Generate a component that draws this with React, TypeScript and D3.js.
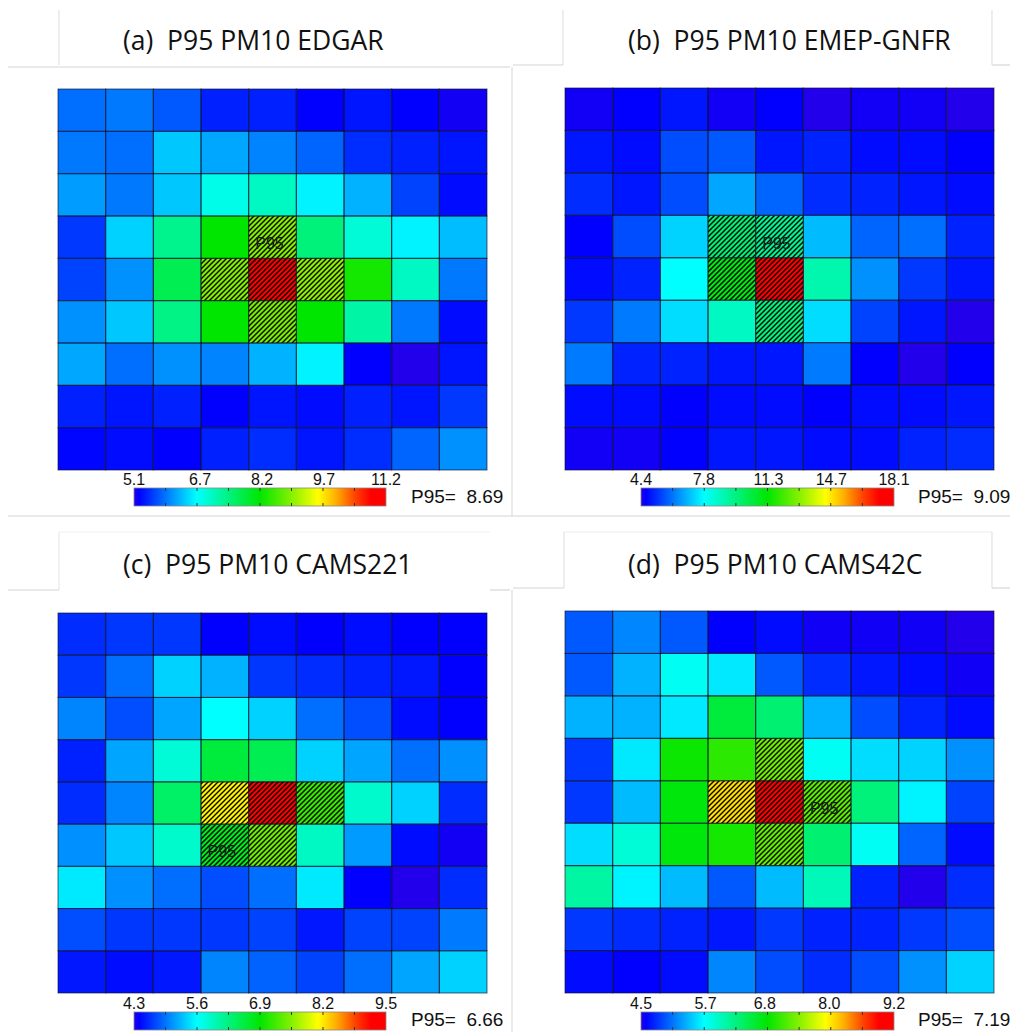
import React from "react";
import * as d3 from "d3";

// panel titles
const titles = [
  "(a)  P95 PM10 EDGAR",
  "(b)  P95 PM10 EMEP-GNFR",
  "(c)  P95 PM10 CAMS221",
  "(d)  P95 PM10 CAMS42C",
];

// 9x9 P95 PM10 fields, row 0 = top
const gridA = [
  [5.83, 5.89, 5.71, 5.40, 5.40, 5.22, 5.34, 5.22, 5.16],
  [5.89, 5.83, 6.32, 6.14, 5.95, 5.77, 5.47, 5.40, 5.34],
  [6.08, 5.89, 6.32, 6.75, 6.99, 6.56, 6.20, 5.59, 5.28],
  [5.53, 6.38, 7.30, 8.15, 8.88, 7.42, 6.87, 6.56, 6.26],
  [5.59, 6.02, 7.66, 8.88, 11.2, 8.94, 8.27, 6.99, 5.89],
  [6.02, 6.32, 7.36, 8.15, 8.82, 8.15, 7.17, 5.89, 5.28],
  [6.14, 5.83, 6.02, 5.95, 6.20, 6.56, 5.22, 5.10, 5.34],
  [5.40, 5.34, 5.40, 5.22, 5.34, 5.28, 5.40, 5.34, 5.53],
  [5.25, 5.28, 5.22, 5.40, 5.47, 5.34, 5.47, 5.77, 6.02],
];

const gridB = [
  [4.54, 4.67, 4.95, 4.54, 4.67, 4.40, 4.54, 4.54, 4.40],
  [4.95, 4.81, 5.63, 5.77, 4.95, 5.09, 4.81, 4.81, 4.67],
  [5.22, 4.95, 5.63, 6.73, 5.91, 5.22, 5.09, 4.95, 4.81],
  [4.67, 5.63, 7.28, 9.74, 9.33, 7.00, 5.91, 6.04, 5.09],
  [4.81, 5.09, 7.83, 10.98, 18.1, 8.92, 6.46, 5.36, 4.95],
  [5.36, 6.18, 7.41, 8.65, 9.61, 7.41, 5.50, 4.95, 4.40],
  [6.18, 5.09, 5.09, 4.95, 4.95, 6.18, 4.67, 4.40, 4.67],
  [4.81, 4.81, 4.67, 4.81, 4.81, 4.67, 4.81, 4.81, 4.95],
  [4.54, 4.54, 4.67, 4.95, 4.95, 4.81, 4.81, 5.09, 5.22],
];

const gridC = [
  [4.61, 4.66, 4.66, 4.40, 4.46, 4.40, 4.46, 4.40, 4.40],
  [4.66, 4.92, 5.39, 5.24, 4.66, 4.61, 4.56, 4.51, 4.40],
  [5.03, 4.77, 5.18, 5.60, 5.39, 4.92, 4.77, 4.46, 4.40],
  [4.56, 5.18, 5.81, 6.59, 6.48, 5.39, 5.18, 4.92, 5.08],
  [4.61, 5.03, 6.38, 8.15, 9.50, 7.16, 5.86, 5.39, 4.61],
  [5.08, 5.34, 5.86, 6.74, 7.42, 5.91, 5.13, 4.46, 4.35],
  [5.50, 5.08, 4.92, 4.77, 4.92, 5.50, 4.40, 4.30, 4.61],
  [4.77, 4.66, 4.66, 4.66, 4.72, 4.51, 4.72, 4.72, 4.98],
  [4.51, 4.46, 4.51, 5.03, 4.87, 4.72, 4.92, 5.18, 5.39],
];

const gridD = [
  [4.97, 5.16, 4.97, 4.59, 4.64, 4.55, 4.55, 4.55, 4.50],
  [4.97, 5.35, 5.72, 5.58, 4.97, 4.78, 4.69, 4.64, 4.55],
  [5.35, 5.35, 5.58, 6.57, 6.33, 5.35, 4.92, 4.74, 4.64],
  [4.83, 5.58, 6.90, 7.04, 7.32, 5.72, 5.53, 5.49, 5.21],
  [4.83, 5.39, 6.80, 8.07, 9.20, 7.23, 6.29, 5.63, 4.88],
  [5.53, 5.86, 6.80, 6.94, 7.27, 6.33, 5.72, 5.02, 4.64],
  [6.10, 5.63, 5.39, 4.97, 5.39, 6.00, 4.74, 4.50, 4.78],
  [4.83, 4.78, 4.74, 4.69, 4.83, 4.74, 4.74, 4.83, 4.92],
  [4.64, 4.59, 4.64, 5.16, 4.92, 4.78, 4.92, 5.21, 5.49],
];

const ticksA = [5.1, 6.7, 8.2, 9.7, 11.2];
const ticksB = [4.4, 7.8, 11.3, 14.7, 18.1];
const ticksC = [4.3, 5.6, 6.9, 8.2, 9.5];
const ticksD = [4.5, 5.7, 6.8, 8.0, 9.2];

const p95Values = [8.69, 9.09, 6.66, 7.19];
// [row, col] of the cell carrying the "P95" tag
const p95Cells = [
  [3, 4],
  [3, 4],
  [5, 3],
  [4, 5],
];

const grids = [gridA, gridB, gridC, gridD];
const tickSets = [ticksA, ticksB, ticksC, ticksD];

// jet-like palette used by the plots
const paletteStops = [0, 0.02, 0.25, 0.5, 0.62, 0.73, 0.8, 0.88, 0.94, 1];
const paletteColors = [
  "#2300eb", "#0000ff", "#00ffff", "#00e600", "#80f000",
  "#ffff00", "#ffb000", "#ff4000", "#ff0000", "#ff0000",
];

const layout = [
  { grid: [58, 89, 487, 470], bar: [134, 488, 386, 506], title: [123, 50], p95: [411, 503] },
  { grid: [565, 88, 994, 470], bar: [641, 488, 894, 506], title: [628, 50], p95: [918, 503] },
  { grid: [58, 613, 487, 993], bar: [134, 1012, 386, 1030], title: [123, 574], p95: [411, 1026] },
  { grid: [565, 611, 994, 993], bar: [641, 1012, 894, 1030], title: [628, 574], p95: [918, 1026] },
];

// faint page/frame lines from the source document
const frameLines = [
  [59, 10, 59, 65, "#e2e2e2"],
  [8, 67, 510, 67, "#d6d6d6"],
  [563, 10, 563, 65, "#e2e2e2"],
  [992, 10, 992, 65, "#e2e2e2"],
  [513, 65, 563, 65, "#d6d6d6"],
  [992, 65, 1010, 65, "#d6d6d6"],
  [512, 67, 512, 516, "#dcdcdc"],
  [8, 516, 1010, 516, "#d6d6d6"],
  [59, 532, 59, 590, "#e8e8e8"],
  [59, 532, 490, 532, "#f0f0f0"],
  [8, 590, 59, 590, "#d6d6d6"],
  [490, 590, 510, 590, "#d6d6d6"],
  [564, 532, 992, 532, "#ececec"],
  [564, 532, 564, 588, "#e2e2e2"],
  [992, 532, 992, 588, "#e2e2e2"],
  [513, 588, 564, 588, "#d6d6d6"],
  [992, 588, 1010, 588, "#d6d6d6"],
  [512, 590, 512, 1032, "#dcdcdc"],
];

const palette = d3
  .scaleLinear<string>()
  .domain(paletteStops)
  .range(paletteColors)
  .interpolate(d3.interpolateRgb)
  .clamp(true);

const sans = "'Liberation Sans', Arial, sans-serif";

const Panel = ({ idx }: { idx: number }) => {
  const data = grids[idx];
  const ticks = tickSets[idx];
  const L = layout[idx];
  const [gx0, gy0, gx1, gy1] = L.grid;
  const [bx0, by0, bx1, by1] = L.bar;
  const lo = ticks[0];
  const hi = ticks[ticks.length - 1];

  const x = d3.scaleBand<number>().domain(d3.range(9)).range([gx0, gx1]);
  const y = d3.scaleBand<number>().domain(d3.range(9)).range([gy0, gy1]);
  const norm = d3.scaleLinear().domain([lo, hi]).range([0, 1]).clamp(true);
  const bar = d3.scaleLinear().domain([lo, hi]).range([bx0, bx1]);
  const minor = d3.range(9).map((i) => lo + ((hi - lo) * i) / 8);

  const cells = data.flatMap((row, r) => row.map((v, c) => ({ r, c, v })));
  const [tr, tc] = p95Cells[idx];

  return (
    <g>
      <text
        x={L.title[0]}
        y={L.title[1]}
        fontFamily="'Open Sans', sans-serif"
        fontSize={26.5}
        fill="#111"
        xmlSpace="preserve"
        style={{ whiteSpace: "pre" }}
      >
        {titles[idx]}
      </text>

      {cells.map((d) => (
        <rect
          key={`c${d.r}-${d.c}`}
          x={x(d.c)}
          y={y(d.r)}
          width={x.bandwidth()}
          height={y.bandwidth()}
          fill={palette(norm(d.v))}
        />
      ))}
      {cells
        .filter((d) => d.v > p95Values[idx])
        .map((d) => (
          <rect
            key={`h${d.r}-${d.c}`}
            x={x(d.c)}
            y={y(d.r)}
            width={x.bandwidth()}
            height={y.bandwidth()}
            fill="url(#hatch)"
          />
        ))}
      {cells.map((d) => (
        <rect
          key={`s${d.r}-${d.c}`}
          x={x(d.c)}
          y={y(d.r)}
          width={x.bandwidth()}
          height={y.bandwidth()}
          fill="none"
          stroke="#10102a"
          strokeOpacity={0.65}
          strokeWidth={1}
        />
      ))}
      <text
        x={(x(tc) as number) + x.bandwidth() / 2 - 3}
        y={(y(tr) as number) + y.bandwidth() / 2 + 12}
        textAnchor="middle"
        fontFamily={sans}
        fontSize={16}
        fill="#1a1a1a"
      >
        P95
      </text>

      {/* colour bar */}
      <rect x={bx0} y={by0} width={bx1 - bx0} height={by1 - by0} fill="url(#cbar)" stroke="#888" strokeWidth={0.8} />
      {minor.slice(1, -1).map((t, i) => (
        <g key={`m${i}`} stroke="#333" strokeWidth={1}>
          <line x1={bar(t)} x2={bar(t)} y1={by0} y2={by0 + 3} />
          <line x1={bar(t)} x2={bar(t)} y1={by1 - 3} y2={by1} />
        </g>
      ))}
      {ticks.map((t, i) => (
        <text
          key={`t${i}`}
          x={bar(t)}
          y={by0 - 3}
          textAnchor="middle"
          fontFamily={sans}
          fontSize={16}
          fill="#111"
        >
          {t.toFixed(1)}
        </text>
      ))}
      <text
        x={L.p95[0]}
        y={L.p95[1]}
        fontFamily={sans}
        fontSize={19}
        fill="#111"
        xmlSpace="preserve"
        style={{ whiteSpace: "pre" }}
      >
        {`P95=  ${p95Values[idx].toFixed(2)}`}
      </text>
    </g>
  );
};

export default function App() {
  return (
    <svg
      width={1010}
      height={1032}
      viewBox="0 0 1010 1032"
      style={{ position: "absolute", left: 0, top: 0, background: "#fff" }}
    >
      <defs>
        <linearGradient id="cbar" x1="0" x2="1" y1="0" y2="0">
          {paletteStops.map((s, i) => (
            <stop key={i} offset={s} stopColor={paletteColors[i]} />
          ))}
        </linearGradient>
        <pattern id="hatch" patternUnits="userSpaceOnUse" width={5} height={5}>
          <path d="M0,5 L5,0 M-1,1 L1,-1 M4,6 L6,4" stroke="#000" strokeWidth={1.35} />
        </pattern>
      </defs>
      <rect width={1010} height={1032} fill="#fff" />
      {frameLines.map(([x1, y1, x2, y2, c], i) => (
        <line key={i} x1={x1} y1={y1} x2={x2} y2={y2} stroke={c as string} strokeWidth={1.2} />
      ))}
      {[0, 1, 2, 3].map((i) => (
        <Panel key={i} idx={i} />
      ))}
    </svg>
  );
}
